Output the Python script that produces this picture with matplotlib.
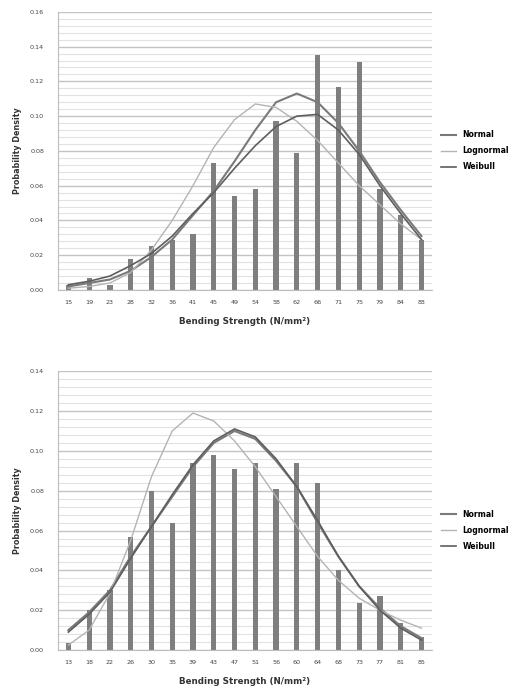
import numpy as np
import matplotlib
matplotlib.use("Agg")
import matplotlib.pyplot as plt
from matplotlib.ticker import MultipleLocator, FormatStrFormatter

# top chart
top_cats = ["15", "19", "23", "28", "32", "36", "41", "45", "49", "54",
            "58", "62", "66", "71", "75", "79", "84", "88"]
top_bars = [0.003, 0.007, 0.003, 0.018, 0.025, 0.029, 0.032, 0.073, 0.054, 0.058,
            0.097, 0.079, 0.135, 0.117, 0.131, 0.058, 0.043, 0.029]
top_normal = [0.002, 0.004, 0.006, 0.011, 0.019, 0.029, 0.043, 0.057, 0.074, 0.092,
              0.108, 0.113, 0.108, 0.096, 0.080, 0.062, 0.046, 0.031]
top_lognormal = [0.001, 0.002, 0.004, 0.010, 0.023, 0.040, 0.060, 0.082, 0.098, 0.107,
                 0.105, 0.097, 0.086, 0.073, 0.060, 0.049, 0.038, 0.029]
top_weibull = [0.003, 0.005, 0.008, 0.014, 0.021, 0.031, 0.044, 0.056, 0.070, 0.083,
               0.094, 0.100, 0.101, 0.092, 0.078, 0.060, 0.044, 0.029]

# bottom chart
bot_cats = ["13", "18", "22", "26", "30", "35", "39", "43", "47", "51",
            "56", "60", "64", "68", "73", "77", "81", "85"]
bot_bars = [0.0035, 0.020, 0.030, 0.057, 0.080, 0.064, 0.094, 0.098, 0.091, 0.094,
            0.081, 0.094, 0.084, 0.040, 0.0235, 0.027, 0.0135, 0.0065]
bot_normal = [0.010, 0.019, 0.030, 0.047, 0.062, 0.077, 0.092, 0.104, 0.110, 0.106,
              0.095, 0.082, 0.064, 0.047, 0.032, 0.021, 0.012, 0.006]
bot_lognormal = [0.0025, 0.010, 0.0285, 0.055, 0.087, 0.110, 0.119, 0.115, 0.105, 0.092,
                 0.077, 0.062, 0.047, 0.035, 0.026, 0.020, 0.015, 0.011]
bot_weibull = [0.009, 0.018, 0.029, 0.046, 0.062, 0.078, 0.093, 0.105, 0.111, 0.107,
               0.096, 0.082, 0.065, 0.047, 0.032, 0.020, 0.011, 0.005]

bar_color = "#7f7f7f"
normal_color = "#7a7a7a"
logn_color = "#b4b4b4"
weib_color = "#5e5e5e"
tick_font = 4.6


def draw(ax, cats, bars, normal, logn, weib, ymax, legend_y):
    x = np.arange(len(cats))
    ax.set_axisbelow(True)
    ax.yaxis.set_major_locator(MultipleLocator(0.02))
    ax.yaxis.set_minor_locator(MultipleLocator(0.004))
    ax.yaxis.set_major_formatter(FormatStrFormatter("%.2f"))
    ax.grid(axis="y", which="major", color="#c4c4c4", lw=1.0)
    ax.grid(axis="y", which="minor", color="#e2e2e2", lw=0.8)
    ax.bar(x, bars, width=0.25, color=bar_color, zorder=2)
    ax.plot(x, normal, color=normal_color, lw=1.5, zorder=3, label="Normal")
    ax.plot(x, logn, color=logn_color, lw=1.0, zorder=3, label="Lognormal")
    ax.plot(x, weib, color=weib_color, lw=1.2, zorder=3, label="Weibull")
    ax.set_xlim(-0.5, len(cats) - 0.5)
    ax.set_ylim(0, ymax)
    ax.set_xticks(x)
    ax.set_xticklabels(cats)
    ax.tick_params(axis="x", length=0, labelsize=tick_font, colors="#444444", pad=7)
    ax.tick_params(axis="y", which="both", length=0, labelsize=tick_font,
                   colors="#444444", pad=10)
    for s in ["top", "right"]:
        ax.spines[s].set_visible(False)
    ax.spines["left"].set_color("#bdbdbd")
    ax.spines["bottom"].set_color("#bdbdbd")
    ax.set_ylabel("Probability Density", fontsize=5.8, fontweight="bold",
                  color="#333333", labelpad=6)
    ax.set_xlabel("Bending Strength (N/mm\u00b2)", fontsize=6.3,
                  fontweight="bold", color="#333333", labelpad=9)
    ax.legend(loc="center left", bbox_to_anchor=(1.005, legend_y), frameon=False,
              handlelength=2.0, labelspacing=0.9,
              prop={"weight": "bold", "size": 5.6})


fig = plt.figure(figsize=(5.2, 6.97), dpi=100)
ax1 = fig.add_axes([0.1115, 0.584, 0.719, 0.399])
ax2 = fig.add_axes([0.1115, 0.0674, 0.719, 0.400])

draw(ax1, top_cats, top_bars, top_normal, top_lognormal, top_weibull, 0.16, 0.50)
draw(ax2, bot_cats, bot_bars, bot_normal, bot_lognormal, bot_weibull, 0.14, 0.43)

fig.savefig("out.png", dpi=100)
